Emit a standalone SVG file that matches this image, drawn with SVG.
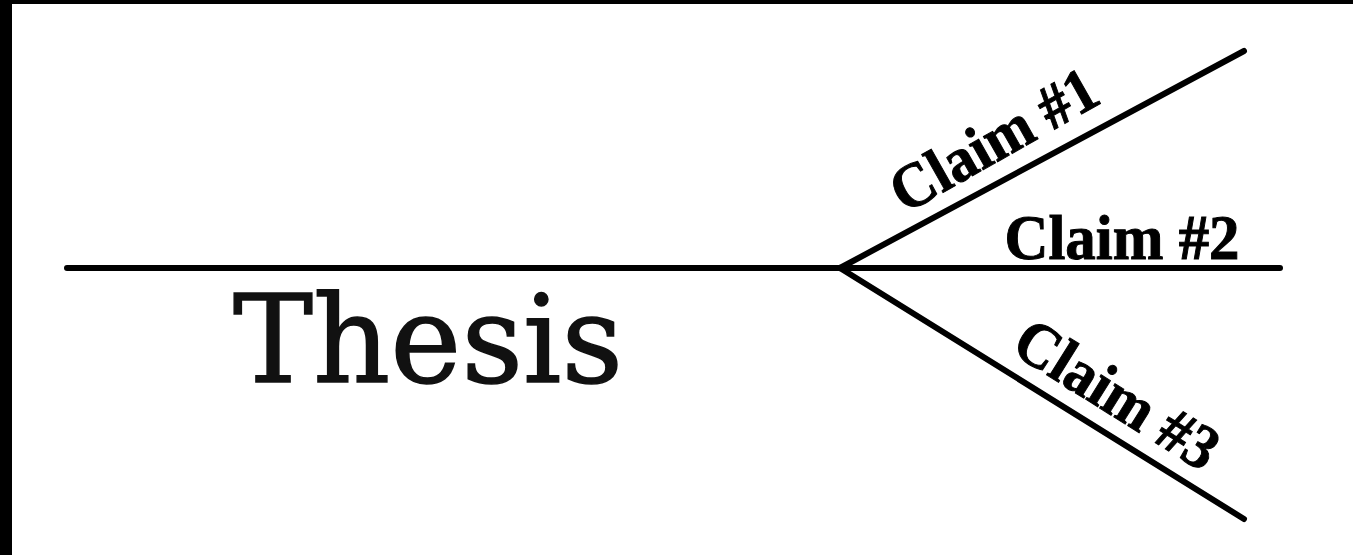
<svg xmlns="http://www.w3.org/2000/svg" width="1353" height="555" viewBox="0 0 1353 555">
  <style>
    .line { stroke: #000; stroke-width: 6; stroke-linecap: round; fill: none; }
    .claim { font-family: "Liberation Serif", serif; font-weight: bold; font-size: 63px; fill: #000; stroke: #000; stroke-width: 1; text-anchor: middle; }
    .thesis { font-family: "DejaVu Serif", "Liberation Serif", serif; font-size: 122px; fill: #111; stroke: #111; stroke-width: 1.5; }
  </style>
  <rect x="0" y="0" width="1353" height="555" fill="#fff"/>
  <rect x="0" y="0" width="12" height="555" fill="#000"/>
  <rect x="0" y="0" width="1353" height="4" fill="#000"/>
  <g id="connectors">
    <line class="line" x1="67" y1="268" x2="1280" y2="268"/>
    <line class="line" x1="840" y1="268" x2="1244" y2="51"/>
    <line class="line" x1="840" y1="268" x2="1244" y2="519"/>
  </g>
  <g id="thesis">
    <text class="thesis" x="233" y="382" textLength="390" lengthAdjust="spacingAndGlyphs">Thesis</text>
  </g>
  <g id="claim1">
    <text class="claim" transform="translate(1004,158) rotate(-29.5)" textLength="228" lengthAdjust="spacingAndGlyphs">Claim #1</text>
  </g>
  <g id="claim2">
    <text class="claim" x="1122" y="259" textLength="235" lengthAdjust="spacingAndGlyphs">Claim #2</text>
  </g>
  <g id="claim3">
    <text class="claim" transform="translate(1106,412) rotate(32)" textLength="228" lengthAdjust="spacingAndGlyphs">Claim #3</text>
  </g>
</svg>
